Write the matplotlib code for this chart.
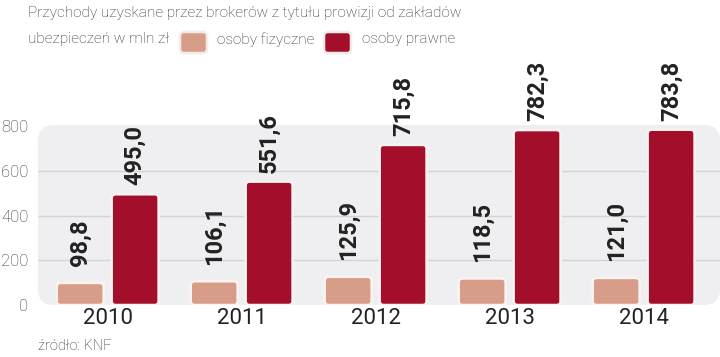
import matplotlib
matplotlib.use("Agg")
import matplotlib.pyplot as plt
from matplotlib.patches import FancyBboxPatch
from matplotlib import font_manager
import numpy as np

years = ["2010", "2011", "2012", "2013", "2014"]
series_names = ["osoby fizyczne", "osoby prawne"]
fizyczne = [98.8, 106.1, 125.9, 118.5, 121.0]
prawne = [495.0, 551.6, 715.8, 782.3, 783.8]
yticks = [0, 200, 400, 600, 800]
title_l1 = "Przychody uzyskane przez brokerów z tytułu prowizji od zakładów"
title_l2 = "ubezpieczeń w mln zł"
source = "źródło: KNF"

c_fiz = "#d89d88"
c_pra = "#a30f2b"
txt = "#222222"
gray_txt = "#2e2e2e"

plt.rcParams['font.family'] = ['Roboto', 'DejaVu Sans']

names = {f.name for f in font_manager.fontManager.ttflist}
if "Liberation Sans Narrow" in names:
    narrow = ["Liberation Sans Narrow", "DejaVu Sans"]
    tsize, tweight, ssize = 14.5, "normal", 12
else:
    narrow = ["Roboto", "DejaVu Sans"]
    tsize, tweight, ssize = 11.1, "light", 10.5

W, H = 720, 357
fig = plt.figure(figsize=(7.2, 3.57), dpi=100)
ax_l, ax_r, ax_t, ax_b = 38, 720, 125, 305
ax = fig.add_axes([ax_l / W, 1 - ax_b / H, (ax_r - ax_l) / W, (ax_b - ax_t) / H])
ax.set_xlim(-0.52, 4.57)
ax.set_ylim(0, 805)

ax_wpx, ax_hpx = ax_r - ax_l, ax_b - ax_t
bg = FancyBboxPatch((0, 0), 1.0, 1.0, boxstyle="round,pad=0,rounding_size=%f" % (16 / ax_wpx),
                    mutation_aspect=ax_wpx / ax_hpx, transform=ax.transAxes,
                    facecolor="#efeff1", edgecolor="none", zorder=0, clip_on=False)
ax.add_patch(bg)
for s in ax.spines.values():
    s.set_visible(False)
ax.patch.set_visible(False)

for v in yticks[1:-1]:
    ax.axhline(v, color="#d3d3d6", lw=1.0, zorder=1)

x = np.arange(len(years))
off, bw = 0.205, 0.35
b1 = ax.bar(x - off, fizyczne, bw, color=c_fiz, zorder=2, label=series_names[0])
b2 = ax.bar(x + off, prawne, bw, color=c_pra, zorder=2, label=series_names[1])

xpx_per_unit = ax_wpx / (4.57 + 0.52)
ypx_per_unit = ax_hpx / 805
aspect = xpx_per_unit / ypx_per_unit
for bars, col in ((b1, c_fiz), (b2, c_pra)):
    for r in bars:
        r.set_visible(False)
        p = FancyBboxPatch((r.get_x(), 0), r.get_width(), r.get_height(),
                           boxstyle="round,pad=0,rounding_size=%f" % (4 / xpx_per_unit),
                           mutation_aspect=aspect, facecolor=col, edgecolor="#fbf3f1",
                           linewidth=1.8, zorder=3)
        ax.add_patch(p)

def fmt(v):
    return ("%.1f" % v).replace(".", ",")

for xi, v in zip(x, fizyczne):
    ax.annotate(fmt(v), (xi - off, v), xytext=(0, 12), textcoords="offset points",
                rotation=90, ha="center", va="bottom", fontsize=17, fontweight="bold",
                color=txt, zorder=4)
for xi, v in zip(x, prawne):
    ax.annotate(fmt(v), (xi + off, v), xytext=(0, 6.5), textcoords="offset points",
                rotation=90, ha="center", va="bottom", fontsize=17, fontweight="bold",
                color=txt, zorder=4, annotation_clip=False)

ax.set_yticks(yticks)
ax.set_yticklabels([str(v) for v in yticks], fontsize=12, color="#333333", fontweight="light")
ax.set_xticks(x)
ax.set_xticklabels(years, fontsize=16, color=txt)
ax.tick_params(axis="both", length=0)
ax.tick_params(axis="y", pad=7)
ax.tick_params(axis="x", pad=2)

fig.text(28 / W, 1 - 6 / H, title_l1, ha="left", va="top", fontsize=tsize, color=gray_txt,
         fontweight=tweight, family=narrow)
fig.text(28 / W, 1 - 32 / H, title_l2, ha="left", va="top", fontsize=tsize, color=gray_txt,
         fontweight=tweight, family=narrow)

def swatch(xp, col):
    p = FancyBboxPatch((xp / W, 1 - 53 / H), 27 / W, 21 / H,
                       boxstyle="round,pad=0,rounding_size=%f" % (4 / W),
                       mutation_aspect=W / H, transform=fig.transFigure,
                       facecolor=col, edgecolor="#f1ebea", linewidth=1.8)
    fig.patches.append(p)

swatch(180, c_fiz)
fig.text(217 / W, 1 - 32 / H, series_names[0], ha="left", va="top", fontsize=tsize,
         color=gray_txt, fontweight=tweight, family=narrow)
swatch(324, c_pra)
fig.text(362 / W, 1 - 32 / H, series_names[1], ha="left", va="top", fontsize=tsize,
         color=gray_txt, fontweight=tweight, family=narrow)

fig.text(38 / W, 1 - 339 / H, source, ha="left", va="top", fontsize=ssize, color=gray_txt,
         fontweight=tweight, family=narrow)

fig.savefig("out.png", dpi=100)
